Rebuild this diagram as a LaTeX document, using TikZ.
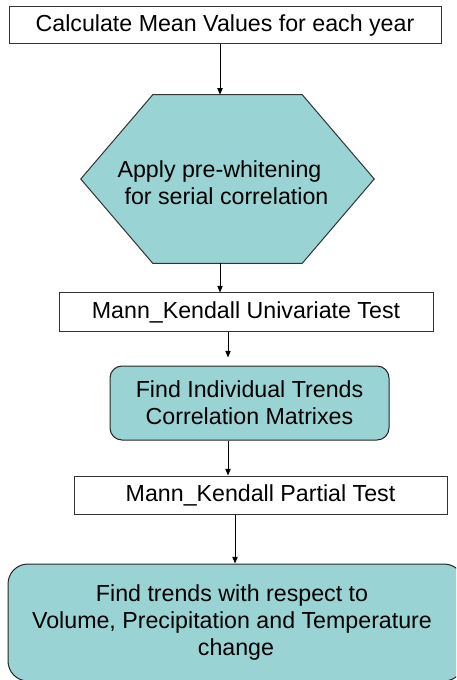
\documentclass[tikz,border=0pt]{standalone}
\usepackage{fontspec}
\setmainfont{Liberation Sans}
\usetikzlibrary{arrows.meta,calc}
\definecolor{tealfill}{RGB}{153,211,211}
\begin{document}
\begin{tikzpicture}[x=0.75pt,y=-0.75pt,
  lbl/.style={font=\fontsize{17.4pt}{20.25pt}\selectfont,align=center},
  plainbox/.style={draw=black!80,line width=0.75pt,fill=white,inner sep=0pt,lbl},
  roundbox/.style={draw=black!85,line width=0.75pt,fill=tealfill,inner sep=0pt,lbl},
  arr/.style={draw=black,line width=0.75pt,-{Triangle[length=5pt,width=4pt]}}]
\clip (0,0) rectangle (456,680);
\useasboundingbox (0,0) rectangle (456,680);
\fill[white] (0,0) rectangle (456,680);
% helper x positions for connectors
\coordinate (a1) at (220,0);
\coordinate (a2) at (228,0);
\coordinate (a3) at (235,0);
% nodes
\node[plainbox,minimum width=432*0.75pt,minimum height=37*0.75pt] (box1) at (225,25.5) {Calculate Mean Values for each year};
\node[inner sep=0pt,minimum width=293*0.75pt,minimum height=168*0.75pt] (hex) at (227.5,179) {};
\filldraw[fill=tealfill,draw=black!80,line width=0.75pt]
  (hex.west) -- ([xshift=72*0.75pt]hex.north west) -- ([xshift=-72*0.75pt]hex.north east)
  -- (hex.east) -- ([xshift=-72*0.75pt]hex.south east) -- ([xshift=72*0.75pt]hex.south west) -- cycle;
\node[lbl] (hextext) at (219.5,182.5) {Apply pre-whitening\\\hspace*{10.5pt}for serial correlation};
\node[plainbox,minimum width=374*0.75pt,minimum height=38*0.75pt] (box2) at (246,312) {Mann\_Kendall Univariate Test};
\node[roundbox,rounded corners=9pt,minimum width=279*0.75pt,minimum height=74*0.75pt] (rbox1) at (249.5,403) {Find Individual Trends\\Correlation Matrixes};
\node[plainbox,minimum width=373*0.75pt,minimum height=38*0.75pt] (box3) at (260.5,495) {Mann\_Kendall Partial Test};
\node[roundbox,rounded corners=15pt,minimum width=456*0.75pt,minimum height=117*0.75pt] (rbox2) at (236,622.5) {\hspace*{-6pt}Find trends with respect to\\\hspace*{-6pt}Volume, Precipitation and Temperature\\change};
% connectors
\draw[arr] (box1.south -| a1) -- (hex.north -| a1);
\draw[arr] (hex.south -| a1) -- (box2.north -| a1);
\draw[arr,shorten >=6pt] (box2.south -| a2) -- (rbox1.north -| a2);
\draw[arr] (rbox1.south -| a2) -- (box3.north -| a2);
\draw[arr] (box3.south -| a3) -- (rbox2.north -| a3);
\end{tikzpicture}
\end{document}
